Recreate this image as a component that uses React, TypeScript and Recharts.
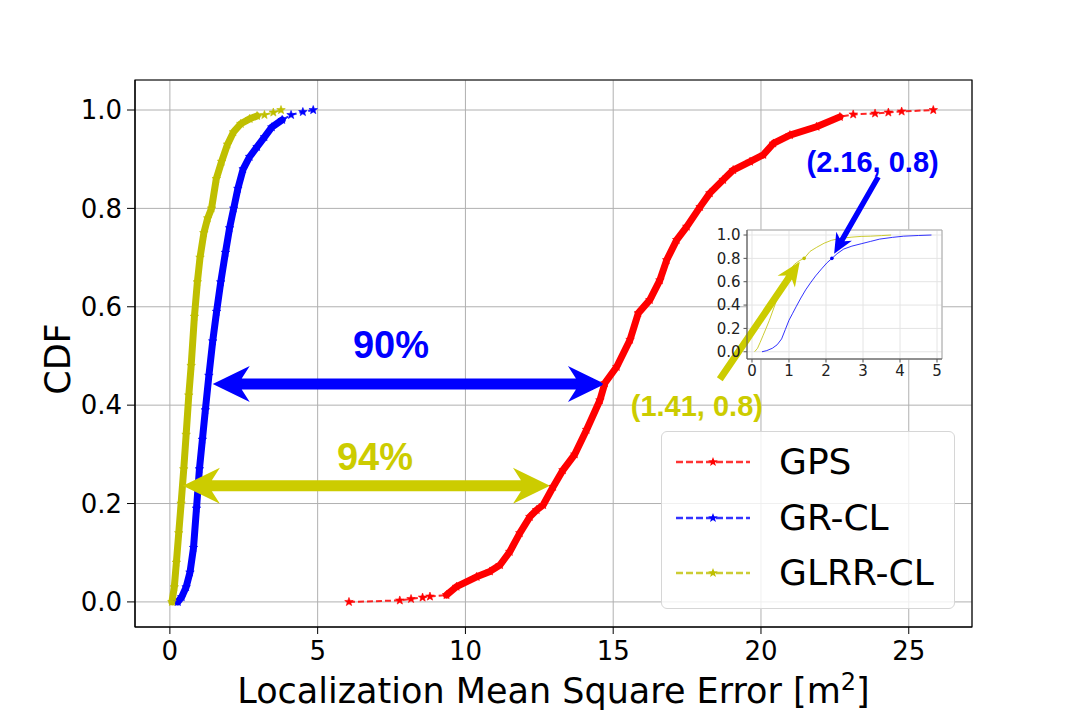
import React from "react";
import {
  CartesianGrid,
  Line,
  LineChart,
  ReferenceArea,
  ReferenceDot,
  ReferenceLine,
  XAxis,
  YAxis,
} from "recharts";

// GPS (red)
const gpsErr = [
  6.06, 7.78, 8.16, 8.55, 8.8, 9.36, 9.7, 10.38, 10.83, 11.17, 11.5, 11.84,
  12.18, 12.41, 12.63, 12.97, 13.3, 13.7, 14.1, 14.55, 14.72, 15.12, 15.57,
  15.85, 16.24, 16.58, 16.81, 17.15, 17.49, 17.94, 18.27, 18.72, 19.06, 19.63,
  20.08, 20.42, 20.98, 21.88, 22.67, 23.12, 23.86, 24.31, 24.76, 25.83,
];
const gpsCdf = [
  0, 0.003, 0.006, 0.009, 0.011, 0.014, 0.031, 0.051, 0.062, 0.075, 0.102,
  0.14, 0.173, 0.187, 0.197, 0.234, 0.268, 0.3, 0.35, 0.41, 0.445, 0.478,
  0.533, 0.587, 0.614, 0.654, 0.695, 0.736, 0.763, 0.803, 0.831, 0.858, 0.878,
  0.895, 0.909, 0.932, 0.949, 0.966, 0.986, 0.991, 0.993, 0.995, 0.997, 1.0,
];
// GR-CL (blue)
const grErr = [
  0.27, 0.4, 0.55, 0.68, 0.8, 0.9, 1.0, 1.1, 1.2, 1.32, 1.45, 1.58, 1.72,
  1.88, 2.02, 2.16, 2.3, 2.48, 2.7, 2.95, 3.2, 3.45, 3.8, 4.1, 4.5, 4.85,
];
const grCdf = [
  0, 0.01, 0.03, 0.06, 0.11, 0.19, 0.27, 0.33, 0.39, 0.46, 0.53, 0.59, 0.65,
  0.71, 0.76, 0.8, 0.84, 0.88, 0.905, 0.925, 0.945, 0.965, 0.98, 0.99, 0.996,
  1.0,
];
// GLRR-CL (yellow)
const glrrErr = [
  0.07, 0.15, 0.22, 0.3, 0.38, 0.47, 0.55, 0.64, 0.72, 0.83, 0.93, 1.02, 1.15,
  1.28, 1.41, 1.57, 1.75, 1.95, 2.15, 2.4, 2.7, 2.95, 3.2, 3.5, 3.76,
];
const glrrCdf = [
  0, 0.03, 0.08, 0.14, 0.2, 0.27, 0.34, 0.42, 0.48, 0.58, 0.65, 0.7, 0.75,
  0.78, 0.8, 0.86, 0.895, 0.93, 0.955, 0.972, 0.982, 0.988, 0.99, 0.995, 1.0,
];

// index ranges where the samples are so dense the markers merge into a band
const gpsDense = [5, 38];
const grDense = [0, 22];
const glrrDense = [0, 21];

const seriesNames = ["GPS", "GR-CL", "GLRR-CL"];
const xTicks = [0, 5, 10, 15, 20, 25];
const yTicks = [0, 0.2, 0.4, 0.6, 0.8, 1.0];
const insetXTicks = [0, 1, 2, 3, 4, 5];

// annotations: [x, y] in data units
const gapLabels = ["90%", "94%"];
const grPoint = [2.16, 0.8];
const glrrPoint = [1.41, 0.8];

const RED = "#ff0000";
const BLUE = "#0000ff";
const OLIVE = "#bfbf00";
const YEL = "#cccc00";

const toPts = (xs: number[], ys: number[]) =>
  xs.map((x, i) => ({ x, y: ys[i] }));

const gps = toPts(gpsErr, gpsCdf);
const gr = toPts(grErr, grCdf);
const glrr = toPts(glrrErr, glrrCdf);

function starPath(cx: number, cy: number, R: number) {
  const r = R * 0.42;
  let d = "";
  for (let i = 0; i < 10; i++) {
    const a = -Math.PI / 2 + (i * Math.PI) / 5;
    const rad = i % 2 === 0 ? R : r;
    d += (i ? "L" : "M") + (cx + rad * Math.cos(a)).toFixed(2) + "," + (cy + rad * Math.sin(a)).toFixed(2);
  }
  return d + "Z";
}

const starDot = (color: string) => (p: any) =>
  (
    <path
      key={`st-${p.index}`}
      d={starPath(p.cx, p.cy, 4.5)}
      fill={color}
      stroke={color}
      strokeWidth={0.6}
    />
  );

function arrowPolygon(
  x1: number, y1: number, x2: number, y2: number,
  shaft: number, headLen: number, headW: number, sweep: number, both: boolean
) {
  const dx = x2 - x1;
  const dy = y2 - y1;
  const len = Math.hypot(dx, dy) || 1;
  const ux = dx / len;
  const uy = dy / len;
  const nx = -uy;
  const ny = ux;
  const P = (a: number, c: number) =>
    `${(x1 + ux * a + nx * c).toFixed(2)},${(y1 + uy * a + ny * c).toFixed(2)}`;
  const s = shaft / 2;
  const h = headW / 2;
  if (both) {
    return [
      P(0, 0), P(headLen, -h), P(headLen - sweep, -s),
      P(len - headLen + sweep, -s), P(len - headLen, -h), P(len, 0),
      P(len - headLen, h), P(len - headLen + sweep, s),
      P(headLen - sweep, s), P(headLen, h),
    ].join(" ");
  }
  return [
    P(0, -s), P(len - headLen + sweep, -s), P(len - headLen, -h), P(len, 0),
    P(len - headLen, h), P(len - headLen + sweep, s), P(0, s),
  ].join(" ");
}

const arrowShape =
  (color: string, shaft: number, headLen: number, headW: number, sweep: number, both: boolean) =>
  (p: any) =>
    (
      <polygon
        points={arrowPolygon(p.x1, p.y1, p.x2, p.y2, shaft, headLen, headW, sweep, both)}
        fill={color}
        stroke="none"
      />
    );

function YLabel(props: any) {
  const vb = props.viewBox || { x: 0, y: 80, width: 135, height: 547 };
  return (
    <text
      x={vb.x + 70}
      y={359}
      transform={`rotate(-90, ${vb.x + 70}, 359)`}
      textAnchor="middle"
      fontFamily="DejaVu Sans"
      fontSize={35}
      fill="#000"
    >
      CDF
    </text>
  );
}

function XLabel(props: any) {
  const vb = props.viewBox || { x: 135, y: 627, width: 837, height: 90 };
  return (
    <text
      x={vb.x + vb.width / 2}
      y={vb.y + 76}
      textAnchor="middle"
      fontFamily="DejaVu Sans"
      fontSize={35}
      fill="#000"
    >
      Localization Mean Square Error [m
      <tspan dy={-13} fontSize={24}>2</tspan>
      <tspan dy={13}>]</tspan>
    </text>
  );
}

function LegendBox() {
  const colors = [RED, BLUE, OLIVE];
  const rows = [30, 86, 141];
  return (
    <div
      style={{
        position: "absolute",
        left: 661,
        top: 431,
        width: 292,
        height: 176,
        border: "1px solid #d6d6d6",
        borderRadius: 6,
        background: "rgba(255,255,255,0.8)",
        fontFamily: "DejaVu Sans",
      }}
    >
      {seriesNames.map((name, i) => (
        <div key={name}>
          <svg
            width={80}
            height={20}
            style={{ position: "absolute", left: 12, top: rows[i] - 10 }}
          >
            <line
              x1={2}
              x2={76}
              y1={10}
              y2={10}
              stroke={colors[i]}
              strokeOpacity={0.8}
              strokeWidth={2.5}
              strokeDasharray="7 3"
            />
            <path d={starPath(39, 10, 5)} fill={colors[i]} />
          </svg>
          <div
            style={{
              position: "absolute",
              left: 117,
              top: rows[i] - 22,
              fontSize: 36,
              lineHeight: "44px",
              color: "#000",
              whiteSpace: "nowrap",
            }}
          >
            {name}
          </div>
        </div>
      ))}
    </div>
  );
}

const tickStyle = { fontSize: 26, fill: "#000", fontFamily: "DejaVu Sans" };
const insetTick = { fontSize: 15, fill: "#222", fontFamily: "DejaVu Sans" };
const boldLabel = { fontWeight: "bold", fontFamily: "Liberation Sans" };

export default function App() {
  return (
    <div style={{ position: "absolute", left: 0, top: 0, width: 1081, height: 717, background: "#fff" }}>
      <div style={{ position: "absolute", left: 0, top: 0 }}>
        <LineChart width={1081} height={717} margin={{ top: 80, right: 109, bottom: 0, left: 0 }}>
          <CartesianGrid stroke="#b0b0b0" strokeWidth={1} />
          <XAxis
            type="number"
            dataKey="x"
            domain={[-1.18, 27.14]}
            allowDataOverflow
            ticks={xTicks}
            height={90}
            tick={tickStyle}
            tickSize={7}
            tickMargin={8}
            stroke="#000"
            label={<XLabel />}
          />
          <YAxis
            type="number"
            dataKey="y"
            domain={[-0.051, 1.061]}
            allowDataOverflow
            ticks={yTicks}
            width={135}
            tick={tickStyle}
            tickSize={8}
            tickMargin={5}
            stroke="#000"
            tickFormatter={(v: number) => v.toFixed(1)}
            label={<YLabel />}
          />
          <ReferenceArea
            x1={-1.18}
            x2={27.14}
            y1={-0.051}
            y2={1.061}
            fill="none"
            stroke="#000"
            strokeWidth={1.2}
            ifOverflow="visible"
          />
          {/* sparse tails: dashed with star markers */}
          <Line data={gps} dataKey="y" stroke={RED} strokeOpacity={0.85} strokeWidth={2} strokeDasharray="6 3" dot={starDot(RED)} isAnimationActive={false} />
          <Line data={gr} dataKey="y" stroke={BLUE} strokeOpacity={0.85} strokeWidth={2} strokeDasharray="6 3" dot={starDot(BLUE)} isAnimationActive={false} />
          <Line data={glrr} dataKey="y" stroke={OLIVE} strokeOpacity={0.85} strokeWidth={2} strokeDasharray="6 3" dot={starDot(OLIVE)} isAnimationActive={false} />
          {/* dense body: markers merge into a thick band */}
          <Line data={gps.slice(gpsDense[0], gpsDense[1] + 1)} dataKey="y" stroke={RED} strokeWidth={7} strokeLinejoin="round" strokeLinecap="round" dot={false} isAnimationActive={false} />
          <Line data={gr.slice(grDense[0], grDense[1] + 1)} dataKey="y" stroke={BLUE} strokeWidth={7} strokeLinejoin="round" strokeLinecap="round" dot={false} isAnimationActive={false} />
          <Line data={glrr.slice(glrrDense[0], glrrDense[1] + 1)} dataKey="y" stroke={OLIVE} strokeWidth={7} strokeLinejoin="round" strokeLinecap="round" dot={false} isAnimationActive={false} />
          <ReferenceLine
            segment={[{ x: 1.45, y: 0.443 }, { x: 14.72, y: 0.443 }]}
            ifOverflow="visible"
            shape={arrowShape(BLUE, 11, 37, 36, 8, true)}
          />
          <ReferenceLine
            segment={[{ x: 0.44, y: 0.236 }, { x: 12.86, y: 0.236 }]}
            ifOverflow="visible"
            shape={arrowShape(YEL, 11, 37, 36, 8, true)}
          />
          <ReferenceDot x={7.48} y={0.524} r={0} ifOverflow="visible"
            label={{ value: gapLabels[0], position: "center", fill: BLUE, fontSize: 38, ...boldLabel }} />
          <ReferenceDot x={6.94} y={0.295} r={0} ifOverflow="visible"
            label={{ value: gapLabels[1], position: "center", fill: YEL, fontSize: 38, ...boldLabel }} />
        </LineChart>
      </div>
      <LegendBox />
      <div style={{ position: "absolute", left: 0, top: 0 }}>
        <LineChart width={1081} height={717} margin={{ top: 230, right: 139, bottom: 328, left: 707 }}>
          <CartesianGrid stroke="#e4e4e4" fill="#fff" fillOpacity={1} />
          <XAxis
            type="number"
            dataKey="x"
            domain={[-0.135, 5.135]}
            allowDataOverflow
            ticks={insetXTicks}
            height={30}
            tick={insetTick}
            tickSize={3.5}
            tickMargin={3}
            stroke="#555"
          />
          <YAxis
            type="number"
            dataKey="y"
            domain={[-0.062, 1.043]}
            allowDataOverflow
            ticks={yTicks}
            width={40}
            tick={insetTick}
            tickSize={3.5}
            tickMargin={3}
            stroke="#555"
            tickFormatter={(v: number) => v.toFixed(1)}
          />
          <ReferenceArea
            x1={-0.135}
            x2={5.135}
            y1={-0.062}
            y2={1.043}
            fill="none"
            stroke="#a8a8a8"
            strokeWidth={1}
            ifOverflow="visible"
          />
          <Line data={gr} dataKey="y" stroke={BLUE} strokeOpacity={0.8} strokeWidth={1} dot={false} isAnimationActive={false} />
          <Line data={glrr} dataKey="y" stroke={OLIVE} strokeOpacity={0.8} strokeWidth={1} dot={false} isAnimationActive={false} />
          <ReferenceDot x={grPoint[0]} y={grPoint[1]} r={1.8} fill={BLUE} stroke="none" ifOverflow="visible" />
          <ReferenceDot x={glrrPoint[0]} y={glrrPoint[1]} r={1.8} fill={OLIVE} stroke="none" ifOverflow="visible" />
          <ReferenceLine
            segment={[{ x: -0.87, y: -0.236 }, { x: 1.29, y: 0.77 }]}
            ifOverflow="visible"
            shape={arrowShape(YEL, 7, 24, 21, 5, false)}
          />
          <ReferenceLine
            segment={[{ x: 3.41, y: 1.497 }, { x: 2.22, y: 0.84 }]}
            ifOverflow="visible"
            shape={arrowShape(BLUE, 5.5, 20, 18, 4, false)}
          />
          <ReferenceDot x={3.26} y={1.631} r={0} ifOverflow="visible"
            label={{ value: `(${grPoint[0]}, ${grPoint[1]})`, position: "center", fill: BLUE, fontSize: 29, ...boldLabel }} />
          <ReferenceDot x={-1.49} y={-0.458} r={0} ifOverflow="visible"
            label={{ value: `(${glrrPoint[0]}, ${glrrPoint[1]})`, position: "center", fill: YEL, fontSize: 29, ...boldLabel }} />
        </LineChart>
      </div>
    </div>
  );
}
